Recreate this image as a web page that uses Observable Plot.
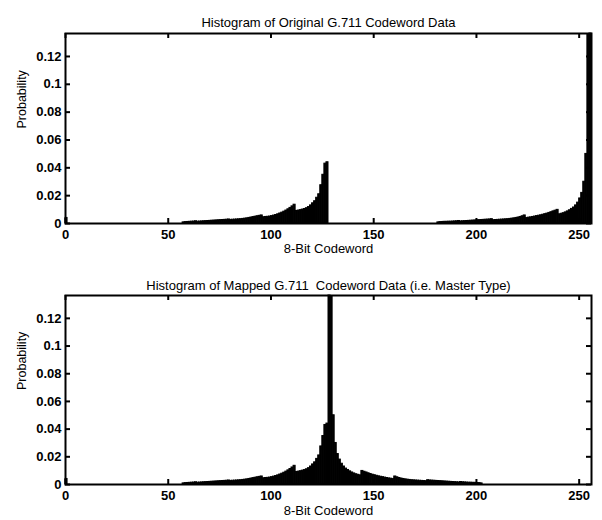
<!DOCTYPE html>
<html><head><meta charset="utf-8">
<script src="https://cdn.jsdelivr.net/npm/d3@7"></script>
<script src="https://cdn.jsdelivr.net/npm/@observablehq/plot@0.6"></script>
<style>
body{margin:0;background:#fff;}
#chart{width:602px;}
#chart svg{display:block;}
</style></head><body><div id="chart"></div>
<script>
// Original G.711 codewords 0..127 (negative half)
const origLow = [
0.0040,0,0,0,0,0,0,0,0,0, 0,0,0,0,0,0,0,0,0,0,
0,0,0,0,0,0,0,0,0,0, 0,0,0,0,0,0,0,0,0,0,
0,0,0,0,0,0,0,0,0,0, 0,0,0,0,0,0,0,0.0008,0.0010,0.0011,
0.0012,0.0013,0.0014,0.0016,0.0013,0.0014,0.0015,0.0016,0.0017,0.0018,
0.0019,0.0020,0.0021,0.0022,0.0023,0.0024,0.0025,0.0026,0.0027,0.0029,
0.0026,0.0027,0.0028,0.0029,0.0030,0.0031,0.0033,0.0035,0.0037,0.0040,
0.0043,0.0046,0.0049,0.0052,0.0055,0.0058,0.0045,0.0047,0.0048,0.0050,
0.0053,0.0057,0.0061,0.0066,0.0072,0.0078,0.0085,0.0093,0.0102,0.0112,
0.0123,0.0135,0.0090,0.0093,0.0096,0.0100,0.0104,0.0110,0.0118,0.0130,
0.0145,0.0160,0.0185,0.0210,0.0275,0.0350,0.0430,0.0440
];
// Original G.711 codewords 128..255 (positive half)
const origHigh = [
0,0,0,0,0,0,0,0,0,0, 0,0,0,0,0,0,0,0,0,0,
0,0,0,0,0,0,0,0,0,0, 0,0,0,0,0,0,0,0,0,0,
0,0,0,0,0,0,0,0,0,0, 0,0,0,0.0008,0.0010,0.0011,0.0012,0.0012,0.0013,0.0013,
0.0014,0.0015,0.0016,0.0018,0.0015,0.0016,0.0017,0.0018,0.0019,0.0020,
0.0021,0.0022,0.0023,0.0024,0.0025,0.0026,0.0027,0.0028,0.0029,0.0031,
0.0024,0.0025,0.0026,0.0027,0.0028,0.0029,0.0030,0.0031,0.0033,0.0035,
0.0037,0.0040,0.0043,0.0047,0.0052,0.0058,0.0039,0.0042,0.0044,0.0047,
0.0050,0.0053,0.0056,0.0059,0.0063,0.0067,0.0071,0.0076,0.0081,0.0087,
0.0092,0.0098,0.0066,0.0070,0.0074,0.0080,0.0087,0.0095,0.0105,0.0115,
0.0130,0.0150,0.0180,0.0220,0.0300,0.0500,0.1360,0.1365
];
// Mapped codewords 0..127
const mappedLow = [
0.0040,0,0,0,0,0,0,0,0,0, 0,0,0,0,0,0,0,0,0,0,
0,0,0,0,0,0,0,0,0,0, 0,0,0,0,0,0,0,0,0,0,
0,0,0,0,0,0,0,0,0,0, 0,0,0,0,0,0,0,0.0008,0.0010,0.0011,
0.0012,0.0013,0.0014,0.0016,0.0013,0.0014,0.0015,0.0016,0.0017,0.0018,
0.0019,0.0020,0.0021,0.0022,0.0023,0.0024,0.0025,0.0026,0.0027,0.0029,
0.0026,0.0027,0.0028,0.0029,0.0030,0.0031,0.0033,0.0035,0.0037,0.0040,
0.0043,0.0046,0.0049,0.0052,0.0055,0.0058,0.0045,0.0047,0.0048,0.0050,
0.0053,0.0057,0.0061,0.0066,0.0072,0.0078,0.0085,0.0093,0.0102,0.0112,
0.0123,0.0135,0.0090,0.0093,0.0096,0.0100,0.0104,0.0110,0.0118,0.0130,
0.0145,0.0160,0.0185,0.0210,0.0275,0.0350,0.0430,0.0440
];
// Mapped codewords 128..255
const mappedHigh = [
0.1365,0.1360,0.0500,0.0300,0.0220,0.0180,0.0150,0.0130,0.0115,0.0105,
0.0095,0.0087,0.0080,0.0074,0.0070,0.0066,0.0098,0.0092,0.0087,0.0081,
0.0076,0.0071,0.0067,0.0063,0.0059,0.0056,0.0053,0.0050,0.0047,0.0044,
0.0042,0.0039,0.0058,0.0052,0.0047,0.0043,0.0040,0.0037,0.0035,0.0033,
0.0031,0.0030,0.0029,0.0028,0.0027,0.0026,0.0025,0.0024,0.0031,0.0029,
0.0028,0.0027,0.0026,0.0025,0.0024,0.0023,0.0022,0.0021,0.0020,0.0019,
0.0018,0.0017,0.0016,0.0015,0.0018,0.0016,0.0015,0.0014,0.0013,0.0013,
0.0012,0.0012,0.0011,0.0010,0.0008,0,0,0,0,0,
0,0,0,0,0,0,0,0,0,0, 0,0,0,0,0,0,0,0,0,0,
0,0,0,0,0,0,0,0,0,0, 0,0,0,0,0,0,0,0,0,0,
0,0,0,0,0,0,0,0
];

const xTicks = [0, 50, 100, 150, 200, 250];
const yTicks = [0, 0.02, 0.04, 0.06, 0.08, 0.1, 0.12];
const titleTop = "Histogram of Original G.711 Codeword Data";
const titleBottom = "Histogram of Mapped G.711  Codeword Data (i.e. Master Type)";
const xLabel = "8-Bit Codeword";
const yLabel = "Probability";

const FONT = '"Liberation Sans", Arial, sans-serif';

function toBins(low, high) {
  return low.concat(high).map((p, c) => ({c, c2: c + 1, zero: 0, p})).filter(d => d.p > 0);
}
const yMax = d3.max(origLow.concat(origHigh, mappedLow, mappedHigh));

function panel(bins, title, mt, mb, titleDy, labelDy) {
  const W = 602, H = 260, ml = 65, mr = 11;
  const fh = H - mt - mb, fw = W - ml - mr;
  return Plot.plot({
    width: W, height: H, marginLeft: ml, marginRight: mr, marginTop: mt, marginBottom: mb,
    x: {domain: [0, 256], axis: null},
    y: {domain: [0, yMax], axis: null},
    style: {fontFamily: FONT, background: "white", color: "black", overflow: "visible"},
    marks: [
      Plot.rect(bins, {x1: "c", x2: "c2", y1: "zero", y2: "p", fill: "black", stroke: "black", strokeWidth: 1}),
      Plot.tickX(xTicks, {x: d => d, insetTop: fh - 5, strokeWidth: 2, stroke: "black"}),
      Plot.tickX(xTicks, {x: d => d, insetBottom: fh - 5, strokeWidth: 2, stroke: "black"}),
      Plot.tickY(yTicks, {y: d => d, insetRight: fw - 5, strokeWidth: 2, stroke: "black"}),
      Plot.tickY(yTicks, {y: d => d, insetLeft: fw - 5, strokeWidth: 2, stroke: "black"}),
      Plot.frame({stroke: "black", strokeWidth: 2}),
      Plot.axisX(xTicks, {tickSize: 0, tickPadding: 6, fontSize: 13, fontWeight: "bold", label: null, tickFormat: d => String(d)}),
      Plot.axisY(yTicks, {tickSize: 0, tickPadding: 4, fontSize: 13, fontWeight: "bold", label: null, tickFormat: d => String(d)}),
      Plot.text([title], {text: d => d, frameAnchor: "top", dy: titleDy, fontSize: 13}),
      Plot.text([xLabel], {text: d => d, frameAnchor: "bottom", dy: labelDy, fontSize: 13}),
      Plot.text([yLabel], {text: d => d, frameAnchor: "left", dx: -44, rotate: -90, fontSize: 12.5})
    ]
  });
}

const chart = document.getElementById("chart");
chart.append(panel(toBins(origLow, origHigh), titleTop, 33, 37, -16, 29));
chart.append(panel(toBins(mappedLow, mappedHigh), titleBottom, 35, 36, -15, 30));
</script>
</body></html>
